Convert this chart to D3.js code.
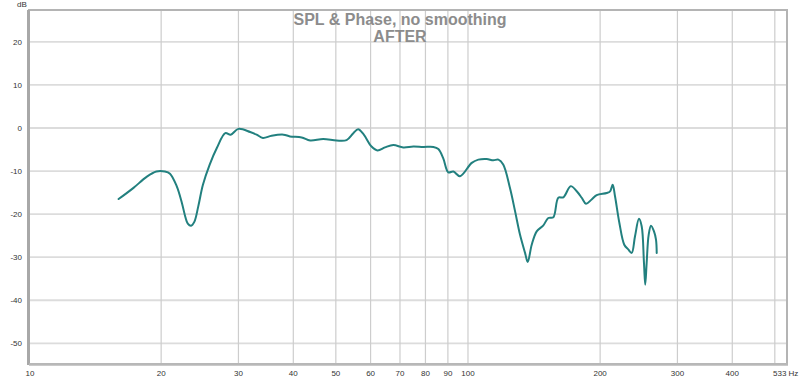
<!DOCTYPE html>
<html>
<head>
<meta charset="utf-8">
<script src="https://cdn.jsdelivr.net/npm/d3@7"></script>
<style>
  html, body { margin: 0; padding: 0; background: #fff; }
  svg { display: block; font-family: "Liberation Sans", Arial, sans-serif; }
</style>
</head>
<body>
<svg id="chart" width="800" height="380"></svg>
<script>
// ---- data ----
const freq = [16,17.3,18.5,19.5,20.4,20.95,21.7,22.3,22.7,23.0,23.4,
  23.8,24.3,24.9,25.8,26.8,28.0,28.8,30.0,31.9,33.0,
  34.1,35.7,38.0,39.3,41.8,43.7,46.8,50.2,52.9,54.8,
  56.2,57.9,60.3,62.2,64.7,67.6,71.2,75.1,79.1,83.4,
  85.6,87.8,90.2,92.6,95.9,102,105.6,110.3,114.2,117.3,
  120.3,124.6,128.0,131.4,134.9,136.8,139.7,143.4,148.5,152.4,
  156.5,160.6,164.9,171.4,176.9,181.6,185.7,191.3,196.4,207.0,
  210.7,213.6,216.3,221.2,227.0,231.8,236.0,240.1,245.2,248.7,
  251.7,253.4,255.3,258.0,261.2,265.3,268.1,269.1];
const spl = [-16.5,-13.9,-11.4,-10.1,-10.1,-10.6,-13.5,-17.4,-20.6,-22.2,-22.7,
  -21.8,-18.2,-13.2,-8.5,-4.6,-1.2,-1.55,-0.2,-0.93,-1.55,
  -2.3,-1.8,-1.55,-1.95,-2.2,-2.9,-2.55,-2.9,-2.8,-1.2,
  -0.3,-1.55,-4.3,-5.2,-4.5,-3.95,-4.5,-4.3,-4.4,-4.4,
  -4.9,-7.0,-10.3,-10.1,-11.2,-8.1,-7.35,-7.2,-7.5,-7.35,
  -8.5,-13.9,-19.3,-24.8,-29.0,-31.1,-27.1,-24.0,-22.6,-20.9,
  -20.7,-16.2,-16.1,-13.5,-14.7,-16.2,-17.6,-16.6,-15.6,-15.1,
  -14.7,-13.2,-15.9,-22.0,-27.1,-28.2,-29.0,-25.2,-21.1,-22.8,
  -31.3,-36.4,-31.3,-24.8,-22.7,-24.0,-25.9,-29.0];
const xGrid = [20,30,40,50,60,70,80,90,100,200,300,400,500];
const xTickLabels = [10,20,30,40,50,60,70,80,90,100,200,300,400];
const yTicks = [20,10,0,-10,-20,-30,-40,-50];
const title1 = "SPL & Phase, no smoothing";
const title2 = "AFTER";

// ---- layout ----
const L = 29, R = 787, T = 10, B = 364;
const x = d3.scaleLog().domain([10, 533]).range([L, R]);
const y = d3.scaleLinear().domain([-54.8, 27.4]).range([B, T]);

const svg = d3.select("#chart");
svg.append("rect").attr("width", 800).attr("height", 380).attr("fill", "#fff");

// grid
svg.append("g").selectAll("line").data(yTicks).join("line")
  .attr("x1", L).attr("x2", R)
  .attr("y1", d => y(d)).attr("y2", d => y(d))
  .attr("stroke", "#dcdcdc").attr("stroke-width", 1.8);
svg.append("g").selectAll("line").data(xGrid).join("line")
  .attr("x1", d => x(d)).attr("x2", d => x(d))
  .attr("y1", T).attr("y2", B)
  .attr("stroke", "#cdcdcd").attr("stroke-width", 1.2);

// border
svg.append("rect").attr("x", L).attr("y", T).attr("width", R - L).attr("height", B - T)
  .attr("fill", "none").attr("stroke", "#b4b4b4").attr("stroke-width", 2);
svg.append("line").attr("x1", L - 0.5).attr("x2", L - 0.5).attr("y1", T).attr("y2", B + 1)
  .attr("stroke", "#a8a8a8").attr("stroke-width", 3);
svg.append("line").attr("x1", L).attr("x2", R + 1).attr("y1", B + 0.5).attr("y2", B + 0.5)
  .attr("stroke", "#b8b8b8").attr("stroke-width", 2.5);

// y labels
svg.append("g").selectAll("text").data(yTicks).join("text")
  .attr("x", 22).attr("y", d => y(d)).attr("dy", "0.35em")
  .attr("text-anchor", "end").attr("font-size", 8).attr("fill", "#333")
  .text(d => d);
svg.append("text").attr("x", 17).attr("y", 7).attr("font-size", 8).attr("fill", "#333").text("dB");

// x labels
svg.append("g").selectAll("text").data(xTickLabels).join("text")
  .attr("x", d => x(d) + (d === 10 ? 1 : 0)).attr("y", 376)
  .attr("text-anchor", "middle").attr("font-size", 8).attr("fill", "#333")
  .text(d => d);
svg.append("text").attr("x", 773).attr("y", 376).attr("font-size", 8).attr("fill", "#333").text("533 Hz");

// titles
svg.append("text").attr("x", 400).attr("y", 25).attr("text-anchor", "middle")
  .attr("font-size", 16).attr("font-weight", "bold").attr("fill", "#8c8c8c").text(title1);
svg.append("text").attr("x", 400).attr("y", 42).attr("text-anchor", "middle")
  .attr("font-size", 16).attr("font-weight", "bold").attr("fill", "#8c8c8c").text(title2);

// curve
const pts = freq.map((f, i) => [f, spl[i]]);
const line = d3.line().x(d => x(d[0])).y(d => y(d[1])).curve(d3.curveCatmullRom.alpha(0.5));
svg.append("path").datum(pts).attr("d", line)
  .attr("fill", "none").attr("stroke", "#22807f").attr("stroke-width", 2)
  .attr("stroke-linejoin", "round").attr("stroke-linecap", "round");
</script>
</body>
</html>
